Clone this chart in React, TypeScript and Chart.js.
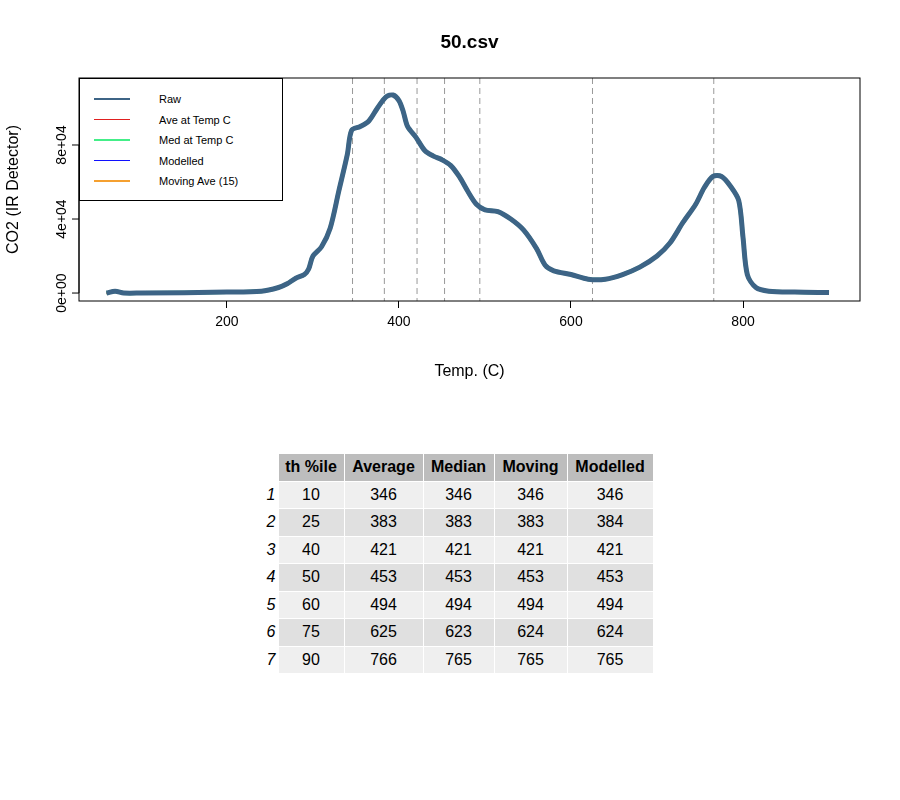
import { useEffect, useRef } from 'react'
import { Chart, registerables } from 'chart.js'

Chart.register(...registerables)

const temps = [60, 70, 80, 100, 200, 240, 260, 270, 280, 290, 295, 300, 310, 320, 330, 340, 345, 355, 365, 375, 385, 393, 400, 405, 410, 420, 430, 440, 450, 460, 470, 480, 490, 500, 515, 530, 545, 560, 570, 580, 600, 620, 640, 660, 680, 700, 715, 730, 745, 755, 765, 775, 785, 795, 800, 805, 815, 830, 860, 900]
const co2 = [0, 1000, 0, 0, 500, 1000, 3000, 5000, 8000, 10000, 13000, 20000, 25000, 35000, 55000, 75000, 88000, 90000, 93000, 100000, 106000, 107000, 104000, 98000, 90000, 84000, 77000, 74000, 72000, 69000, 63000, 55000, 48000, 45000, 44000, 40000, 34000, 24000, 15000, 12000, 10000, 7500, 7500, 10000, 14000, 20000, 27000, 38000, 48000, 57000, 63000, 63000, 58000, 50000, 30000, 10000, 3000, 1000, 500, 300]
const percentileTemps = [346, 383, 421, 453, 494, 625, 766]
const yTicks = [0, 40000, 80000]
const yTickLabels = ['0e+00', '4e+04', '8e+04']

const seriesNames = ['Raw', 'Ave at Temp C', 'Med at Temp C', 'Modelled', 'Moving Ave (15)']
const seriesColors = ['#3d6486', '#e02020', '#44ee88', '#1010ff', '#f5a030']
const seriesWidths = [5, 1, 4, 1.5, 2.5]

const tableHead = ['th %ile', 'Average', 'Median', 'Moving', 'Modelled']
const pctl = [10, 25, 40, 50, 60, 75, 90]
const avgCol = [346, 383, 421, 453, 494, 625, 766]
const medCol = [346, 383, 421, 453, 494, 623, 765]
const movCol = [346, 383, 421, 453, 494, 624, 765]
const modCol = [346, 384, 421, 453, 494, 624, 765]

const font = '"Liberation Sans", Arial, sans-serif'

const decor = {
  id: 'decor',
  beforeDatasetsDraw(chart: any) {
    const { ctx, chartArea: a, scales } = chart
    ctx.save()
    ctx.strokeStyle = '#999'
    ctx.lineWidth = 1
    ctx.setLineDash([6, 4])
    percentileTemps.forEach((t) => {
      const x = scales.x.getPixelForValue(t)
      ctx.beginPath()
      ctx.moveTo(x, a.top)
      ctx.lineTo(x, a.bottom)
      ctx.stroke()
    })
    ctx.restore()
  },
  afterDraw(chart: any) {
    const { ctx, chartArea: a, scales } = chart
    ctx.save()
    ctx.strokeStyle = '#000'
    ctx.lineWidth = 1
    ctx.strokeRect(a.left, a.top, a.right - a.left, a.bottom - a.top)
    ctx.fillStyle = '#000'
    ctx.textAlign = 'center'
    ctx.font = `bold 19px ${font}`
    ctx.fillText('50.csv', (a.left + a.right) / 2, 48)
    ctx.font = `16px ${font}`
    ctx.fillText('Temp. (C)', (a.left + a.right) / 2, 376)
    yTicks.forEach((v, i) => {
      const y = scales.y.getPixelForValue(v)
      ctx.beginPath()
      ctx.moveTo(a.left, y)
      ctx.lineTo(a.left - 7, y)
      ctx.stroke()
      ctx.save()
      ctx.translate(a.left - 18, y)
      ctx.rotate(-Math.PI / 2)
      ctx.font = `14px ${font}`
      ctx.fillText(yTickLabels[i], 0, 5)
      ctx.restore()
    })
    ctx.beginPath()
    ctx.moveTo(a.left, scales.y.getPixelForValue(0))
    ctx.lineTo(a.left, scales.y.getPixelForValue(80000))
    ctx.stroke()
    ctx.translate(18, (a.top + a.bottom) / 2)
    ctx.rotate(-Math.PI / 2)
    ctx.font = `16px ${font}`
    ctx.fillText('CO2 (IR Detector)', 0, 0)
    ctx.restore()
  },
}

function CO2Chart() {
  const ref = useRef<HTMLCanvasElement>(null)
  const inst = useRef<Chart | null>(null)

  useEffect(() => {
    if (!ref.current) return
    inst.current?.destroy()
    const pts = temps.map((t, i) => ({ x: t, y: co2[i] }))
    inst.current = new Chart(ref.current, {
      type: 'line',
      data: {
        datasets: seriesNames.map((name, i) => ({
          label: name,
          data: pts,
          borderColor: seriesColors[i],
          borderWidth: seriesWidths[i],
          pointRadius: 0,
          tension: 0.3,
          fill: false,
        })),
      },
      options: {
        animation: false,
        responsive: false,
        layout: { padding: { left: 79, top: 78, right: 40, bottom: 0 } },
        plugins: { legend: { display: false }, tooltip: { enabled: false } },
        scales: {
          x: {
            type: 'linear',
            min: 28,
            max: 936,
            afterBuildTicks: (s: any) => { s.ticks = [200, 400, 600, 800].map((v) => ({ value: v })) },
            afterFit: (s: any) => { s.height = 99 },
            grid: { drawOnChartArea: false, tickLength: 7, color: '#000' },
            border: { display: false },
            ticks: { color: '#000', font: { family: font, size: 14 }, maxRotation: 0, padding: 6 },
          },
          y: {
            min: -4300,
            max: 116200,
            afterFit: (s: any) => { s.width = 0 },
            grid: { display: false },
            border: { display: false },
            ticks: { display: false },
          },
        },
      },
      plugins: [decor],
    })
    return () => {
      inst.current?.destroy()
      inst.current = null
    }
  }, [])

  return <canvas ref={ref} width={900} height={400} style={{ display: 'block' }} />
}

function Legend() {
  return (
    <div style={{ position: 'absolute', left: 79, top: 78, width: 204, height: 123, border: '1px solid #000', boxSizing: 'border-box', background: '#fff', fontFamily: font, fontSize: 11 }}>
      {seriesNames.map((n, i) => (
        <div key={n} style={{ position: 'absolute', top: 14 + i * 20.5, left: 14, display: 'flex', alignItems: 'center' }}>
          <span style={{ display: 'inline-block', width: 36, height: Math.max(1, Math.min(seriesWidths[i], 2)), background: seriesColors[i] }} />
          <span style={{ marginLeft: 29 }}>{n}</span>
        </div>
      ))}
    </div>
  )
}

function Table() {
  const cols = [pctl, avgCol, medCol, movCol, modCol]
  const widths = [65, 78, 70, 72, 85]
  const cell = { height: 26.5, textAlign: 'center' as const, border: '1px solid #fff', padding: 0, fontSize: 16 }
  return (
    <table style={{ position: 'absolute', left: 253, top: 453, borderCollapse: 'collapse', fontFamily: font }}>
      <thead>
        <tr>
          <th style={{ width: 22 }} />
          {tableHead.map((h, i) => (
            <th key={h} style={{ ...cell, width: widths[i], background: '#bdbdbd' }}>{h}</th>
          ))}
        </tr>
      </thead>
      <tbody>
        {pctl.map((_, r) => (
          <tr key={r}>
            <td style={{ ...cell, fontStyle: 'italic', textAlign: 'right', paddingRight: 2 }}>{r + 1}</td>
            {cols.map((c, j) => (
              <td key={j} style={{ ...cell, background: r % 2 === 0 ? '#efefef' : '#e0e0e0' }}>{c[r]}</td>
            ))}
          </tr>
        ))}
      </tbody>
    </table>
  )
}

export default function App() {
  return (
    <div style={{ position: 'fixed', left: 0, top: 0, width: 900, height: 800, background: '#fff' }}>
      <CO2Chart />
      <Legend />
      <Table />
    </div>
  )
}
